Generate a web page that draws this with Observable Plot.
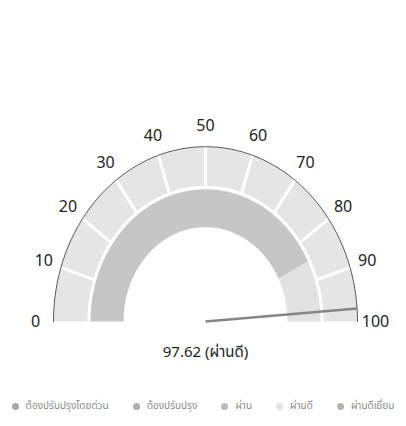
<!DOCTYPE html>
<html>
<head>
<meta charset="utf-8">
<script src="https://cdn.jsdelivr.net/npm/d3@7"></script>
<script src="https://cdn.jsdelivr.net/npm/@observablehq/plot@0.6"></script>
<style>
  html, body { margin: 0; padding: 0; background: #fff; }
  body { width: 406px; height: 426px; overflow: hidden; font-family: "Noto Sans", "Noto Sans Thai", sans-serif; }
  #legend { display: flex; justify-content: center; align-items: center; gap: 24px; font-size: 10px; color: #8a8a8a; margin-top: 8px; white-space: nowrap; }
  #legend .item { display: flex; align-items: center; gap: 7px; }
  #legend .sw { width: 7px; height: 7px; border-radius: 50%; display: inline-block; }
</style>
</head>
<body>
<div id="chart"></div>
<div id="legend"></div>
<script>
// ---- data ----
const tickValues = [0, 10, 20, 30, 40, 50, 60, 70, 80, 90, 100];
const rangeStarts = [0, 85];
const rangeEnds = [85, 100];
const rangeFills = ["#c6c6c6", "#e1e1e1"];
const legendLabels = ["ต้องปรับปรุงโดยด่วน", "ต้องปรับปรุง", "ผ่าน", "ผ่านดี", "ผ่านดีเยี่ยม"];
const legendColors = ["#a9a9a9", "#b0b0b0", "#b9b9b9", "#e2e2e2", "#b3b3b3"];
const gaugeValue = 97.62;
const gaugeLabel = "ผ่านดี";

// ---- geometry helpers ----
const W = 406, H = 390, CX = 205, CY = 321, STRETCH = 1.15;
const R_OUT = 152, R_OUT_IN = 118, R_IN_OUT = 115, R_IN_IN = 82, R_LABEL = 170;
function pt(v, r) {
  const a = Math.PI * (1 - v / 100);
  return {x: r * Math.cos(a), y: r * Math.sin(a)};
}
function arcBand(v0, v1, r0, r1, id) {
  const pts = [];
  const n = Math.max(2, Math.ceil((v1 - v0) * 2));
  for (let i = 0; i <= n; i++) pts.push({...pt(v0 + (v1 - v0) * i / n, r1), id});
  for (let i = n; i >= 0; i--) pts.push({...pt(v0 + (v1 - v0) * i / n, r0), id});
  return pts;
}

const outerSegs = [];
for (let i = 0; i < tickValues.length - 1; i++) outerSegs.push(...arcBand(tickValues[i], tickValues[i + 1], R_OUT_IN, R_OUT, i));
const innerMarks = rangeStarts.map((s, i) =>
  Plot.line(arcBand(s, rangeEnds[i], R_IN_IN, R_IN_OUT, i), {x: "x", y: "y", fill: rangeFills[i], stroke: "none"}));
const separators = tickValues.slice(1, -1).map(v => {
  const a = pt(v, R_OUT_IN - 2), b = pt(v, R_OUT + 1);
  return {x1: a.x, y1: a.y, x2: b.x, y2: b.y};
});
const arcLine = d3.range(0, 100.01, 0.5).map(v => pt(v, R_OUT));
const labels = tickValues.map(v => ({...pt(v, R_LABEL), t: String(v)}));
const needleEnd = pt(gaugeValue, R_OUT);
const needle = [{x1: 0, y1: 0, x2: needleEnd.x, y2: needleEnd.y}];

const chart = Plot.plot({
  width: W, height: H,
  margin: 0,
  x: {domain: [-CX, W - CX], range: [0, W], axis: null},
  y: {domain: [-(H - CY) / STRETCH, CY / STRETCH], range: [H, 0], axis: null},
  style: {fontFamily: '"Noto Sans", "Noto Sans Thai", sans-serif', background: "white"},
  marks: [
    Plot.line(outerSegs, {x: "x", y: "y", z: "id", fill: "#e5e5e5", stroke: "none"}),
    ...innerMarks,
    Plot.link(separators, {x1: "x1", y1: "y1", x2: "x2", y2: "y2", stroke: "white", strokeWidth: 3}),
    Plot.line(arcLine, {x: "x", y: "y", stroke: "#555", strokeWidth: 1}),
    Plot.text(labels, {x: "x", y: "y", text: "t", fontSize: 16, fill: "#222"}),
    Plot.link(needle, {x1: "x1", y1: "y1", x2: "x2", y2: "y2", stroke: "#858585", strokeWidth: 2.5}),
    Plot.text([`${gaugeValue} (${gaugeLabel})`], {x: () => 0, y: () => -27, text: d => d, fontSize: 15, fill: "#222"})
  ]
});
document.getElementById("chart").appendChild(chart);

const lg = document.getElementById("legend");
legendLabels.forEach((l, i) => {
  const it = document.createElement("span");
  it.className = "item";
  it.innerHTML = `<span class="sw" style="background:${legendColors[i]}"></span><span>${l}</span>`;
  lg.appendChild(it);
});
</script>
</body>
</html>
